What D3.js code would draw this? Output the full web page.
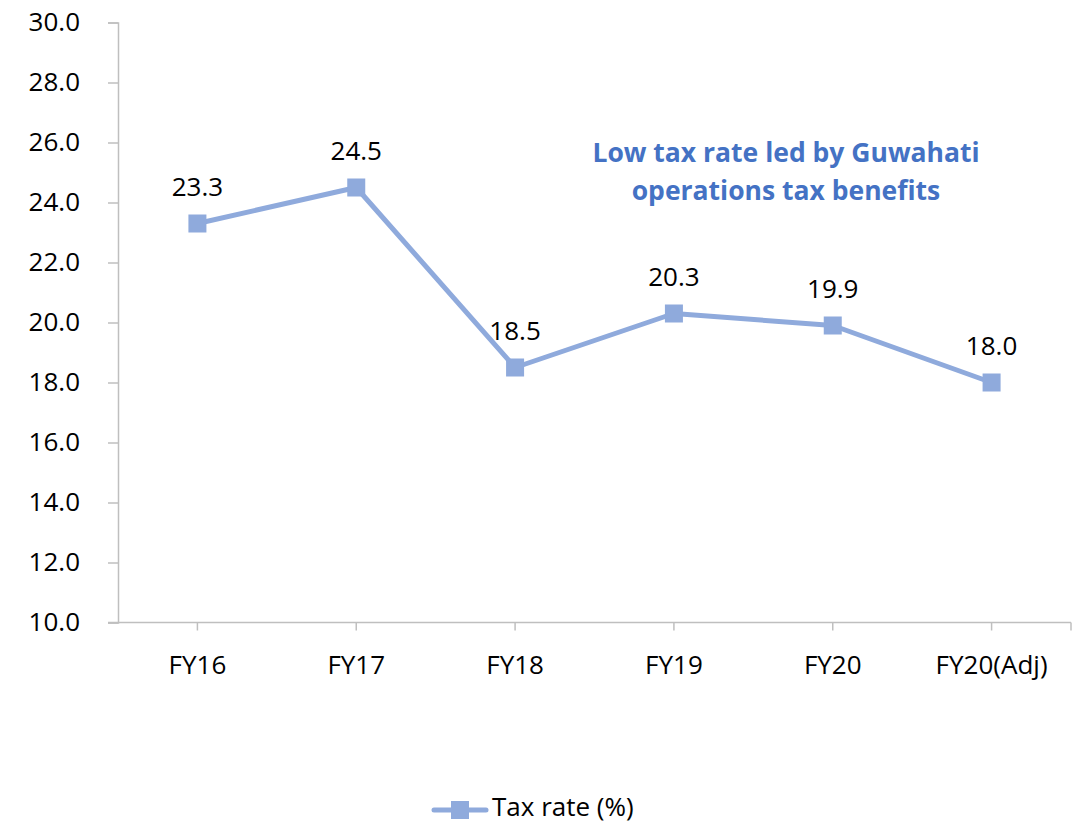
<!DOCTYPE html>
<html lang="en">

<head>
    <meta charset="UTF-8">
    <title>Tax rate</title>
    <script src="https://cdn.jsdelivr.net/npm/d3@7"></script>
    <style>
        body {
            margin: 0;
            background: #fff;
        }

        #chart {
            width: 1077px;
            height: 825px;
        }

        text {
            font-family: "Open Sans", "Noto Sans", sans-serif;
        }
    </style>
</head>

<body>
    <div id="chart"></div>
    <script>
        // data
        const years = ["FY16", "FY17", "FY18", "FY19", "FY20", "FY20(Adj)"];
        const taxRate = [23.3, 24.5, 18.5, 20.3, 19.9, 18.0];
        const yTicks = [10, 12, 14, 16, 18, 20, 22, 24, 26, 28, 30];
        const noteLines = ["Low tax rate led by Guwahati", "operations tax benefits"];
        const seriesName = "Tax rate (%)";

        const lineColor = "#8faadc";
        const axisColor = "#bfbfbf";

        let svg = d3.select("#chart").append("svg")
            .attr("width", 1077)
            .attr("height", 825);

        // plot area edges
        let padding = { left: 118, right: 1071, top: 22.5, bottom: 622.5 };

        let x = d3.scaleBand()
            .domain(years)
            .range([padding.left, padding.right]);

        let y = d3.scaleLinear()
            .domain([10, 30])
            .range([padding.bottom, padding.top]);

        /*y axis*/
        let yAxis = d3.axisLeft(y)
            .tickValues(yTicks)
            .tickFormat(d3.format(".1f"))
            .tickSizeOuter(0)
            .tickSize(10)
            .tickPadding(28);

        let gy = svg.append("g")
            .attr("transform", "translate(" + padding.left + ",0)")
            .call(yAxis);
        gy.select(".domain").attr("stroke", axisColor).attr("stroke-width", 1.5);
        gy.selectAll(".tick line").attr("stroke", axisColor).attr("stroke-width", 1.5);
        gy.selectAll(".tick text")
            .attr("fill", "#000")
            .style("font-size", "26px");

        /*x axis - ticks sit on band centres, plus one at the right end*/
        let gx = svg.append("g")
            .attr("transform", "translate(0," + padding.bottom + ")");
        gx.append("line")
            .attr("x1", padding.left - 10)
            .attr("x2", padding.right)
            .attr("stroke", axisColor)
            .attr("stroke-width", 1.5);
        let tickXs = years.map(d => x(d) + x.bandwidth() / 2).concat([padding.right]);
        gx.selectAll(".xtick")
            .data(tickXs)
            .enter().append("line")
            .attr("class", "xtick")
            .attr("x1", d => d)
            .attr("x2", d => d)
            .attr("y1", 0)
            .attr("y2", 8)
            .attr("stroke", axisColor)
            .attr("stroke-width", 1.5);
        gx.selectAll(".xlabel")
            .data(years)
            .enter().append("text")
            .attr("class", "xlabel")
            .attr("x", d => x(d) + x.bandwidth() / 2)
            .attr("y", 51)
            .attr("text-anchor", "middle")
            .style("font-size", "26px")
            .text(d => d);

        /*series*/
        let pts = years.map((d, i) => ({ name: d, value: taxRate[i] }));
        let line = d3.line()
            .x(d => x(d.name) + x.bandwidth() / 2)
            .y(d => y(d.value));

        svg.append("path")
            .datum(pts)
            .attr("d", line)
            .attr("fill", "none")
            .attr("stroke", lineColor)
            .attr("stroke-width", 5)
            .attr("stroke-linejoin", "round");

        svg.selectAll(".marker")
            .data(pts)
            .enter().append("rect")
            .attr("class", "marker")
            .attr("x", d => x(d.name) + x.bandwidth() / 2 - 9)
            .attr("y", d => y(d.value) - 9)
            .attr("width", 18)
            .attr("height", 18)
            .attr("fill", lineColor);

        svg.selectAll(".vlabel")
            .data(pts)
            .enter().append("text")
            .attr("class", "vlabel")
            .attr("x", d => x(d.name) + x.bandwidth() / 2)
            .attr("y", d => y(d.value) - 28)
            .attr("text-anchor", "middle")
            .style("font-size", "26px")
            .text(d => d3.format(".1f")(d.value));

        /*note*/
        svg.append("text")
            .attr("x", 786)
            .attr("y", 162)
            .attr("text-anchor", "middle")
            .attr("fill", "#4472c4")
            .style("font-size", "26.5px")
            .style("font-weight", "bold")
            .selectAll("tspan")
            .data(noteLines)
            .enter().append("tspan")
            .attr("x", 786)
            .attr("dy", (d, i) => i ? 38 : 0)
            .text(d => d);

        /*legend*/
        let lg = svg.append("g").attr("transform", "translate(432,810)");
        lg.append("line")
            .attr("x1", 2).attr("x2", 54)
            .attr("stroke", lineColor)
            .attr("stroke-width", 5)
            .attr("stroke-linecap", "round");
        lg.append("rect")
            .attr("x", 19).attr("y", -9)
            .attr("width", 18).attr("height", 18)
            .attr("fill", lineColor);
        lg.append("text")
            .attr("x", 60)
            .attr("y", 6)
            .style("font-size", "26px")
            .text(seriesName);
    </script>
</body>

</html>
